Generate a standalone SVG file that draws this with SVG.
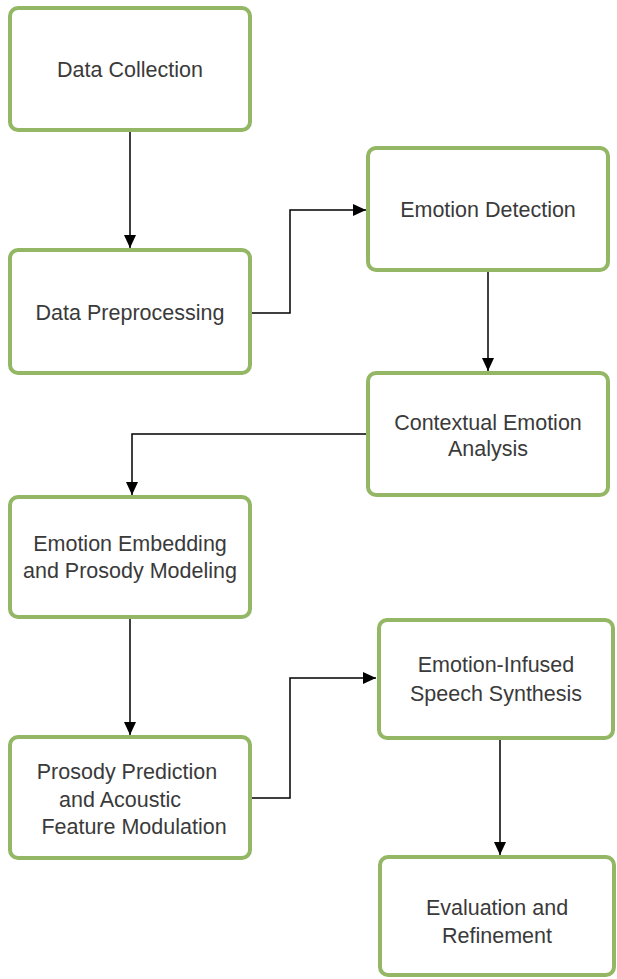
<svg xmlns="http://www.w3.org/2000/svg" width="617" height="979" viewBox="0 0 617 979">
<style>
.box{fill:#ffffff;stroke:#93b765;stroke-width:4}
.t{font-family:"Liberation Sans",Arial,sans-serif;font-size:21.5px;fill:#3a3a3a;text-anchor:middle}
.c{fill:none;stroke:#000;stroke-width:1.5}
</style>
<defs>
<marker id="ah" markerUnits="userSpaceOnUse" markerWidth="14" markerHeight="12" refX="13" refY="6" orient="auto">
<path d="M0,0 L13,6 L0,12 Z" fill="#000"/>
</marker>
</defs>
<rect width="617" height="979" fill="#fff"/>
<g id="connectors">
<path class="c" d="M130,130 V248" marker-end="url(#ah)"/>
<path class="c" d="M250,313 H290 V210 H366" marker-end="url(#ah)"/>
<path class="c" d="M488,270 V371" marker-end="url(#ah)"/>
<path class="c" d="M368,434 H132 V495" marker-end="url(#ah)"/>
<path class="c" d="M130,617 V735" marker-end="url(#ah)"/>
<path class="c" d="M250,798 H290 V678 H376" marker-end="url(#ah)"/>
<path class="c" d="M500,738 V855" marker-end="url(#ah)"/>
</g>
<g id="n1"><rect class="box" x="10" y="8" width="240" height="122" rx="8"/><text class="t" x="130" y="77">Data Collection</text></g>
<g id="n2"><rect class="box" x="10" y="250" width="240" height="123" rx="8"/><text class="t" x="130" y="320">Data Preprocessing</text></g>
<g id="n3"><rect class="box" x="368" y="148" width="240" height="122" rx="8"/><text class="t" x="488" y="217">Emotion Detection</text></g>
<g id="n4"><rect class="box" x="368" y="373" width="240" height="122" rx="8"/><text class="t" x="488" y="430">Contextual Emotion</text><text class="t" x="488" y="456">Analysis</text></g>
<g id="n5"><rect class="box" x="10" y="497" width="240" height="120" rx="8"/><text class="t" x="130" y="551">Emotion Embedding</text><text class="t" x="130" y="578">and Prosody Modeling</text></g>
<g id="n6"><rect class="box" x="379" y="620" width="234" height="118" rx="8"/><text class="t" x="496" y="672">Emotion-Infused</text><text class="t" x="496" y="701">Speech Synthesis</text></g>
<g id="n7"><rect class="box" x="10" y="737" width="240" height="121" rx="8"/><text class="t" x="127" y="779">Prosody Prediction</text><text class="t" x="120" y="807">and Acoustic</text><text class="t" x="134" y="834">Feature Modulation</text></g>
<g id="n8"><rect class="box" x="380" y="857" width="234" height="118" rx="8"/><text class="t" x="497" y="915">Evaluation and</text><text class="t" x="497" y="943">Refinement</text></g>
</svg>
